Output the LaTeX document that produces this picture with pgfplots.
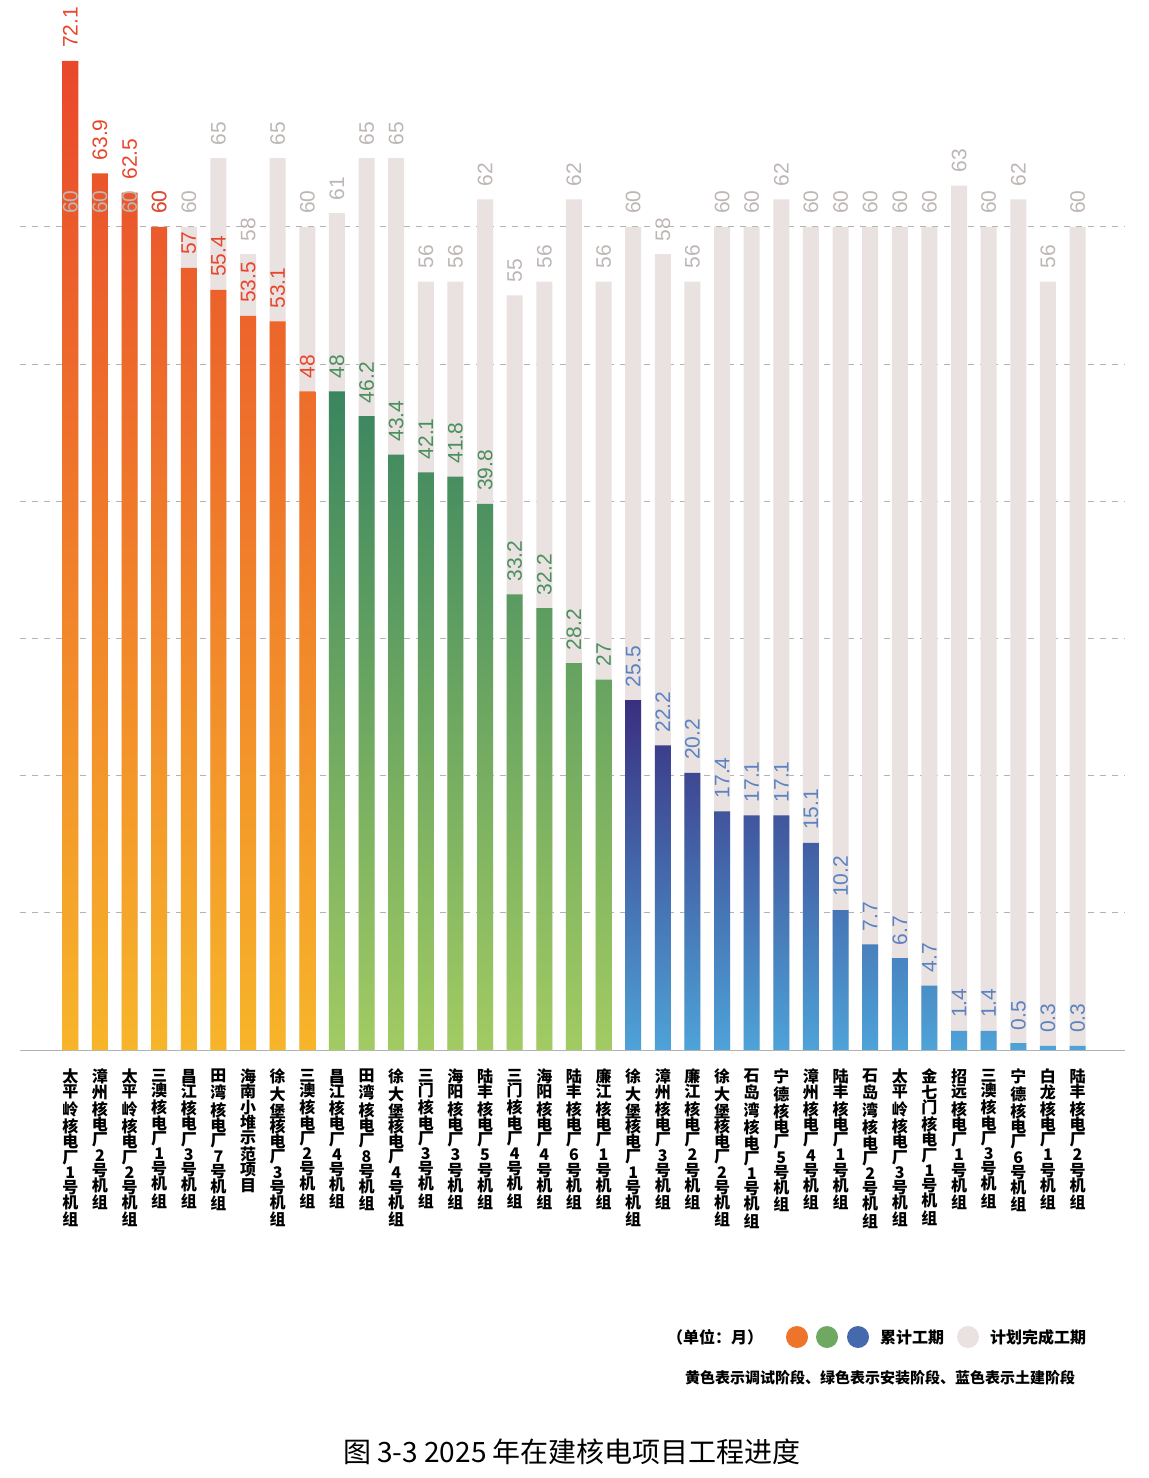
\documentclass[border=0pt]{standalone}
\usepackage{pgfplots}
\pgfplotsset{compat=1.18}
\usepackage{fontspec}
\setmainfont{Noto Sans CJK SC}
\newfontfamily\numfont{Liberation Sans}
\XeTeXlinebreaklocale "zh"
\XeTeXlinebreakskip=0pt plus 1pt
\definecolor{plang}{HTML}{E9E2E0}
\definecolor{plant}{HTML}{BDB6B4}
\definecolor{ortop}{HTML}{E9482B}
\definecolor{orbot}{HTML}{F7B52A}
\definecolor{grtop}{HTML}{3A8560}
\definecolor{grbot}{HTML}{A2CB62}
\definecolor{bltop}{HTML}{3A2F80}
\definecolor{blbot}{HTML}{4EA3D8}
\definecolor{ortxt}{HTML}{E8462C}
\definecolor{grtxt}{HTML}{4A8F5E}
\definecolor{bltxt}{HTML}{5B82C2}
\begin{document}
\begin{tikzpicture}
\path (-10pt,-214pt) rectangle (564pt,525pt);
\begin{axis}[
  scale only axis, width=552.5pt, height=514.5pt,
  xmin=-1.7, xmax=35.6, ymin=0, ymax=75,
  axis line style={draw=none}, major tick length=0pt,
  ybar, bar width=8pt, bar shift=0pt,
  ytick={0,10,...,60}, yticklabels={}, ymajorgrids,
  grid style={dashed, gray!60},
  xtick={0,...,34},
  xticklabels={太平岭核电厂1号机组,漳州核电厂2号机组,太平岭核电厂2号机组,三澳核电厂1号机组,昌江核电厂3号机组,田湾核电厂7号机组,海南小堆示范项目,徐大堡核电厂3号机组,三澳核电厂2号机组,昌江核电厂4号机组,田湾核电厂8号机组,徐大堡核电厂4号机组,三门核电厂3号机组,海阳核电厂3号机组,陆丰核电厂5号机组,三门核电厂4号机组,海阳核电厂4号机组,陆丰核电厂6号机组,廉江核电厂1号机组,徐大堡核电厂1号机组,漳州核电厂3号机组,廉江核电厂2号机组,徐大堡核电厂2号机组,石岛湾核电厂1号机组,宁德核电厂5号机组,漳州核电厂4号机组,陆丰核电厂1号机组,石岛湾核电厂2号机组,太平岭核电厂3号机组,金七门核电厂1号机组,招远核电厂1号机组,三澳核电厂3号机组,宁德核电厂6号机组,白龙核电厂1号机组,陆丰核电厂2号机组},
  xticklabel style={font=\fontsize{8}{7.6}\selectfont\bfseries, text width=8pt, align=center, anchor=north, yshift=-6pt},
  /pgf/number format/assume math mode=true,
  nodes near coords,
  every node near coord/.append style={rotate=90, anchor=west, font=\numfont\fontsize{10.5}{10.5}\selectfont, xshift=3pt},
  clip=false,
]
\draw[gray!60] (axis cs:-1.7,0) -- (axis cs:35.6,0);
\addplot[fill=plang, draw=none, nodes near coords style={text=plant}] coordinates {
(0,60)(1,60)(2,60)(3,60)(4,60)(5,65)(6,58)(7,65)(8,60)(9,61)(10,65)(11,65)(12,56)(13,56)(14,62)(15,55)(16,56)(17,62)(18,56)(19,60)(20,58)(21,56)(22,60)(23,60)(24,62)(25,60)(26,60)(27,60)(28,60)(29,60)(30,63)(31,60)(32,62)(33,56)(34,60)};
\addplot[draw=none, top color=ortop, bottom color=orbot, nodes near coords style={text=ortxt}] coordinates {
(0,72.1)(1,63.9)(2,62.5)(3,60)(4,57)(5,55.4)(6,53.5)(7,53.1)(8,48)};
\addplot[draw=none, top color=grtop, bottom color=grbot, nodes near coords style={text=grtxt}] coordinates {
(9,48)(10,46.2)(11,43.4)(12,42.1)(13,41.8)(14,39.8)(15,33.2)(16,32.2)(17,28.2)(18,27)};
\addplot[draw=none, top color=bltop, bottom color=blbot, nodes near coords style={text=bltxt}] coordinates {
(19,25.5)(20,22.2)(21,20.2)(22,17.4)(23,17.1)(24,17.1)(25,15.1)(26,10.2)(27,7.7)(28,6.7)(29,4.7)(30,1.4)(31,1.4)(32,0.5)(33,0.3)(34,0.3)};
\end{axis}
\node[font=\fontsize{8}{8}\selectfont\bfseries] at (347.5pt,-143.5pt) {（单位：月）};
\fill[ortop!60!orbot] (388.5pt,-143.5pt) circle (5.5pt);
\fill[grtop!50!grbot] (403.5pt,-143.5pt) circle (5.5pt);
\fill[bltop!50!blbot] (419pt,-143.5pt) circle (5.5pt);
\node[font=\fontsize{8}{8}\selectfont\bfseries] at (446pt,-143.5pt) {累计工期};
\fill[plang] (474pt,-143.5pt) circle (5.5pt);
\node[font=\fontsize{8}{8}\selectfont\bfseries] at (509pt,-143.5pt) {计划完成工期};
\node[font=\fontsize{7.5}{7.5}\selectfont\bfseries] at (430pt,-164pt) {黄色表示调试阶段、绿色表示安装阶段、蓝色表示土建阶段};
\node[font=\fontsize{14}{14}\selectfont] at (276pt,-201pt) {图 3-3 2025 年在建核电项目工程进度};
\end{tikzpicture}
\end{document}
